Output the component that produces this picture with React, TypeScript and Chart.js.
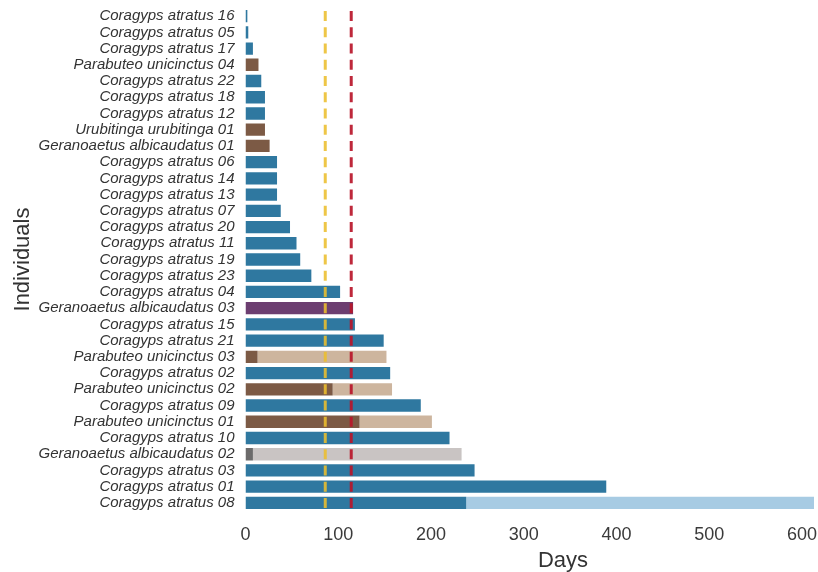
import React, { useEffect, useRef } from "react";
import { Chart, registerables } from "chart.js";

Chart.register(...registerables);

const individuals = [
  "Coragyps atratus 16",
  "Coragyps atratus 05",
  "Coragyps atratus 17",
  "Parabuteo unicinctus 04",
  "Coragyps atratus 22",
  "Coragyps atratus 18",
  "Coragyps atratus 12",
  "Urubitinga urubitinga 01",
  "Geranoaetus albicaudatus 01",
  "Coragyps atratus 06",
  "Coragyps atratus 14",
  "Coragyps atratus 13",
  "Coragyps atratus 07",
  "Coragyps atratus 20",
  "Coragyps atratus 11",
  "Coragyps atratus 19",
  "Coragyps atratus 23",
  "Coragyps atratus 04",
  "Geranoaetus albicaudatus 03",
  "Coragyps atratus 15",
  "Coragyps atratus 21",
  "Parabuteo unicinctus 03",
  "Coragyps atratus 02",
  "Parabuteo unicinctus 02",
  "Coragyps atratus 09",
  "Parabuteo unicinctus 01",
  "Coragyps atratus 10",
  "Geranoaetus albicaudatus 02",
  "Coragyps atratus 03",
  "Coragyps atratus 01",
  "Coragyps atratus 08",
];

// dark (first) segment of each bar, in days
const firstPart = [
  2, 3, 8, 14, 17, 21, 21, 21, 26, 34, 34, 34, 38, 48, 55, 59, 71, 102, 116, 118,
  149, 13, 156, 94, 189, 123, 220, 8, 247, 389, 238,
];

// total length of each bar, in days
const totalDays = [
  2, 3, 8, 14, 17, 21, 21, 21, 26, 34, 34, 34, 38, 48, 55, 59, 71, 102, 116, 118,
  149, 152, 156, 158, 189, 201, 220, 233, 247, 389, 613,
];

const xTicks = [0, 100, 200, 300, 400, 500, 600];
const xMax = 613;

const referenceLines = [
  { value: 86, color: "rgba(236,190,45,0.88)" },
  { value: 114, color: "rgba(185,22,42,0.92)" },
];

const BLUE = "#2f78a0";
const BROWN = "#7c5a45";
const TAN = "#cdb59e";
const PURPLE = "#6c3e70";
const GRAY = "#6c6b6b";
const LIGHTGRAY = "#c9c4c3";
const LIGHTBLUE = "#a7cbe3";

function firstColor(label: string): string {
  if (label === "Geranoaetus albicaudatus 03") return PURPLE;
  if (label === "Geranoaetus albicaudatus 02") return GRAY;
  if (label.startsWith("Coragyps")) return BLUE;
  return BROWN;
}
function secondColor(label: string): string {
  if (label === "Geranoaetus albicaudatus 02") return LIGHTGRAY;
  if (label.startsWith("Coragyps")) return LIGHTBLUE;
  return TAN;
}

const FONT = "'Liberation Sans', Arial, sans-serif";

const linesPlugin = {
  id: "refLines",
  afterDatasetsDraw(chart: any) {
    const { ctx, chartArea, scales } = chart;
    const xs = scales.x;
    const n = individuals.length;
    const rowH = (chartArea.bottom - chartArea.top) / n;
    ctx.save();
    referenceLines.forEach((l) => {
      const x = xs.getPixelForValue(l.value);
      ctx.beginPath();
      ctx.strokeStyle = l.color;
      ctx.lineWidth = 3;
      ctx.setLineDash([10, rowH - 10]);
      ctx.lineDashOffset = -((rowH - 10) / 2);
      ctx.moveTo(x, chartArea.top);
      ctx.lineTo(x, chartArea.bottom);
      ctx.stroke();
    });
    ctx.restore();
  },
};

const daysTitlePlugin = {
  id: "daysTitle",
  afterDraw(chart: any) {
    const { ctx, chartArea } = chart;
    ctx.save();
    ctx.font = `22px ${FONT}`;
    ctx.fillStyle = "#333333";
    ctx.textAlign = "center";
    ctx.textBaseline = "middle";
    const x = chartArea.left + (chartArea.right - chartArea.left) * 0.5585;
    ctx.fillText("Days", x, chartArea.bottom + 50);
    ctx.restore();
  },
};

export default function App() {
  const ref = useRef<HTMLCanvasElement | null>(null);

  useEffect(() => {
    if (!ref.current) return;
    const secondPart = totalDays.map((t, i) => t - firstPart[i]);
    const chart = new Chart(ref.current, {
      type: "bar",
      data: {
        labels: individuals,
        datasets: [
          {
            data: firstPart,
            backgroundColor: individuals.map(firstColor),
            borderWidth: 0,
            barPercentage: 0.76,
            categoryPercentage: 1,
          },
          {
            data: secondPart,
            backgroundColor: individuals.map(secondColor),
            borderWidth: 0,
            barPercentage: 0.76,
            categoryPercentage: 1,
          },
        ],
      },
      options: {
        indexAxis: "y",
        animation: false,
        responsive: false,
        maintainAspectRatio: false,
        layout: { padding: { top: 8, right: 4, left: 0, bottom: 0 } },
        plugins: {
          legend: { display: false },
          tooltip: { enabled: false },
        },
        scales: {
          x: {
            type: "linear",
            stacked: true,
            min: 0,
            max: xMax,
            grid: { display: false, drawTicks: false },
            border: { display: false },
            afterBuildTicks(scale: any) {
              scale.ticks = xTicks.map((v) => ({ value: v }));
            },
            afterFit(scale: any) {
              scale.height = 61;
              scale.paddingLeft = 0;
              scale.paddingRight = 0;
              scale.paddingTop = 0;
              scale.paddingBottom = 0;
            },
            ticks: {
              padding: 13,
              color: "#3a3a3a",
              font: { family: FONT, size: 18 },
            },
            title: { display: false },
          },
          y: {
            stacked: true,
            grid: { display: false, drawTicks: false },
            border: { display: false },
            afterFit(scale: any) {
              scale.width = 245.5;
              scale.paddingLeft = 0;
              scale.paddingRight = 0;
              scale.paddingTop = 0;
              scale.paddingBottom = 0;
            },
            ticks: {
              padding: 11,
              autoSkip: false,
              color: "#333333",
              font: { family: FONT, size: 15, style: "italic" },
            },
            title: {
              display: true,
              text: "Individuals",
              color: "#333333",
              font: { family: FONT, size: 22 },
              padding: { top: 10, bottom: 0 },
            },
          },
        },
      },
      plugins: [linesPlugin, daysTitlePlugin],
    });
    return () => chart.destroy();
  }, []);

  return (
    <div style={{ position: "fixed", left: 0, top: 0, width: 818, height: 572, background: "#ffffff" }}>
      <canvas ref={ref} width={818} height={572} style={{ width: 818, height: 572, display: "block" }} />
    </div>
  );
}
